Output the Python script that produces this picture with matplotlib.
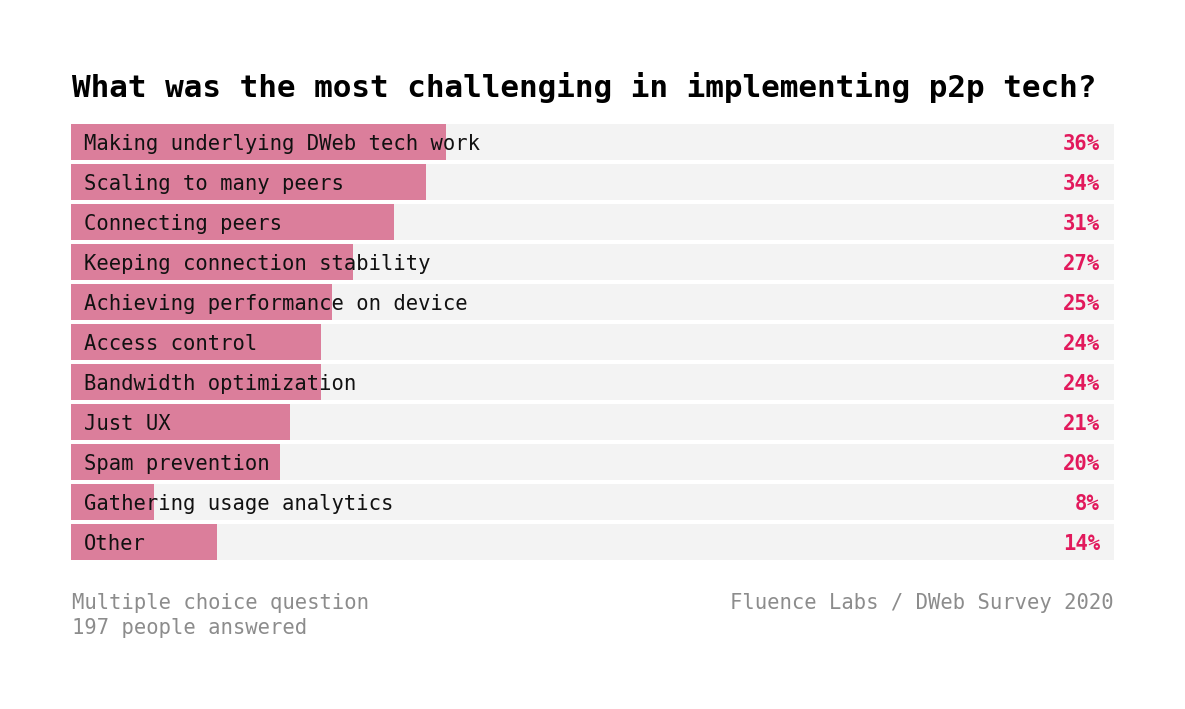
import matplotlib.pyplot as plt

plt.rcParams['font.family'] = ['DejaVu Sans Mono']

title = 'What was the most challenging in implementing p2p tech?'
categories = [
    'Making underlying DWeb tech work',
    'Scaling to many peers',
    'Connecting peers',
    'Keeping connection stability',
    'Achieving performance on device',
    'Access control',
    'Bandwidth optimization',
    'Just UX',
    'Spam prevention',
    'Gathering usage analytics',
    'Other',
]
values = [36, 34, 31, 27, 25, 24, 24, 21, 20, 8, 14]
note_left = ['Multiple choice question', '197 people answered']
note_right = 'Fluence Labs / DWeb Survey 2020'

W, H = 1185, 709
fig = plt.figure(figsize=(W / 100, H / 100), dpi=100)
fig.patch.set_facecolor('white')

# plotting area: 71..1114 px horizontally, 122..562 px vertically (40 px per row)
ax = fig.add_axes([71 / W, 1 - 562 / H, 1043 / W, 440 / H])
ax.set_xlim(0, 100)
ax.set_ylim(len(categories) - 0.5, -0.5)
ax.axis('off')

ys = list(range(len(categories)))
ax.barh(ys, [100] * len(ys), height=0.9, color='#f3f3f3', linewidth=0)
ax.barh(ys, values, height=0.9, color='#db7e9b', linewidth=0)

# text baseline sits ~8 px under the row centre
for y, cat, v in zip(ys, categories, values):
    ax.text(13 / 1043, y + 0.2, cat, transform=ax.get_yaxis_transform(),
            ha='left', va='baseline', fontsize=14.8, color='#111111')
    ax.text(1029 / 1043, y + 0.2, f'{v}%', transform=ax.get_yaxis_transform(),
            ha='right', va='baseline', fontsize=14.8, color='#e2195c',
            fontweight='bold')

fig.text(72 / W, 1 - 97 / H, title, ha='left', va='baseline',
         fontsize=22.35, fontweight='bold', color='#000000')

for i, line in enumerate(note_left):
    fig.text(72 / W, 1 - (609 + 25 * i) / H, line, ha='left', va='baseline',
             fontsize=14.8, color='#8c8c8c')
fig.text(1114 / W, 1 - 609 / H, note_right, ha='right', va='baseline',
         fontsize=14.8, color='#8c8c8c')

fig.savefig('out.png', dpi=100, facecolor='white')
